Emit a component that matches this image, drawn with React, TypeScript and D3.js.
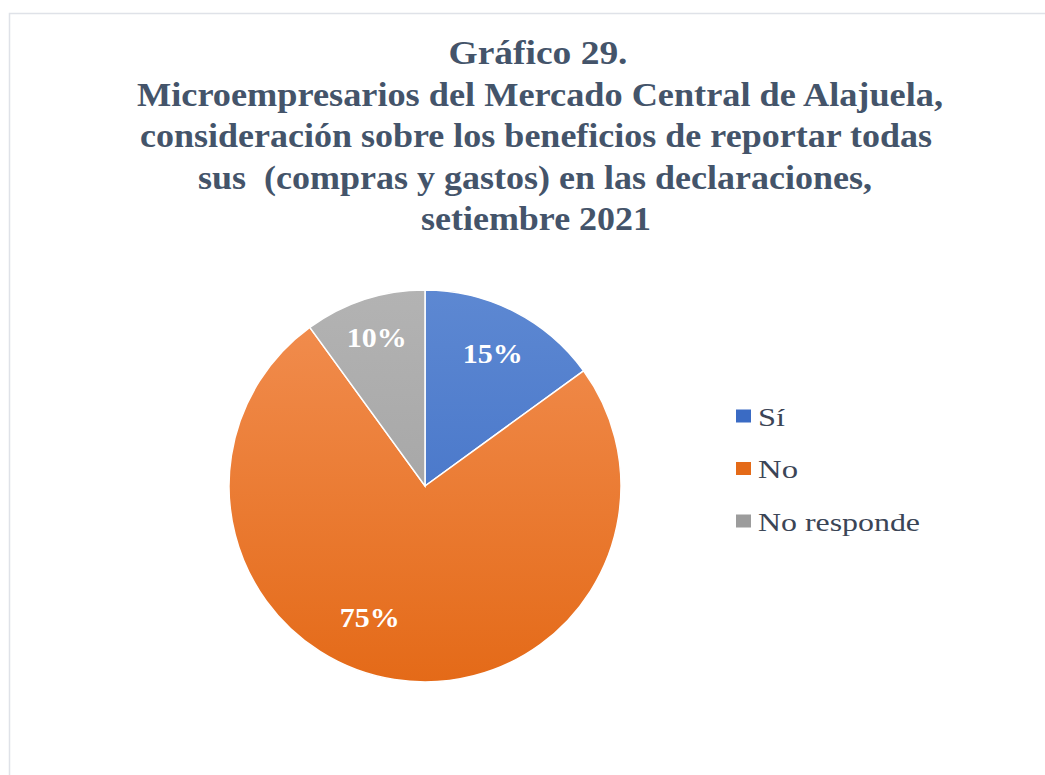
import React, { useRef, useEffect } from 'react';
import * as d3 from 'd3';

const categories = ['Sí', 'No', 'No responde'];
const values = [15, 75, 10];
const titleLines = [
  'Gráfico 29.',
  'Microempresarios del Mercado Central de Alajuela,',
  'consideración sobre los beneficios de reportar todas',
  'sus  (compras y gastos) en las declaraciones,',
  'setiembre 2021',
];

const App = () => {
  const svgRef = useRef<SVGSVGElement>(null);

  useEffect(() => {
    const width = 1045;
    const height = 775;
    const svg = d3.select(svgRef.current)
      .attr('width', width)
      .attr('height', height);

    svg.selectAll('*').remove();

    const cx = 425;
    const cy = 486;
    const radius = 196;

    // gradients, excel style (lighter top, darker bottom)
    const colors = [
      ['#5d88d2', '#3a6bc4'],
      ['#f28f52', '#e46a18'],
      ['#b3b3b3', '#9c9c9c'],
    ];
    const defs = svg.append('defs');
    colors.forEach((c, i) => {
      const g = defs.append('linearGradient')
        .attr('id', `grad${i}`)
        .attr('gradientUnits', 'userSpaceOnUse')
        .attr('x1', 0).attr('y1', -radius)
        .attr('x2', 0).attr('y2', radius);
      g.append('stop').attr('offset', '0%').attr('stop-color', c[0]);
      g.append('stop').attr('offset', '100%').attr('stop-color', c[1]);
    });

    // frame
    svg.append('rect')
      .attr('x', 9.5)
      .attr('y', 13.5)
      .attr('width', 1060)
      .attr('height', 800)
      .attr('fill', 'white')
      .attr('stroke', '#dfe2e8')
      .attr('stroke-width', 1.5);

    // title (source is squeezed horizontally, so fit each line to its width)
    const titleX = [538, 540, 536, 535, 536];
    const titleWidths = [179, 806, 792, 674, 230];
    svg.append('g')
      .selectAll('text')
      .data(titleLines)
      .enter()
      .append('text')
      .attr('x', (d, i) => titleX[i])
      .attr('y', (d, i) => 64 + i * 41.5)
      .attr('text-anchor', 'middle')
      .attr('textLength', (d, i) => titleWidths[i])
      .attr('lengthAdjust', 'spacingAndGlyphs')
      .style('white-space', 'pre')
      .style('font-family', '"Liberation Serif", "Times New Roman", serif')
      .style('font-weight', 'bold')
      .style('font-size', '34px')
      .style('fill', '#44546a')
      .text(d => d);

    const pie = d3.pie<number>().sort(null).value(d => d);
    const arcs = pie(values);
    const arc = d3.arc<d3.PieArcDatum<number>>().innerRadius(0).outerRadius(radius);

    const chart = svg.append('g')
      .attr('transform', `translate(${cx},${cy})`);

    chart.selectAll('path')
      .data(arcs)
      .enter()
      .append('path')
      .attr('d', arc)
      .attr('fill', (d, i) => `url(#grad${i})`)
      .attr('stroke', 'white')
      .attr('stroke-width', 1.5);

    // labels
    const labelRadius = [149, 143, 156];
    const labelShift = [0, 0.24, 0];
    chart.selectAll('.lbl')
      .data(arcs)
      .enter()
      .append('text')
      .attr('class', 'lbl')
      .attr('x', (d, i) => Math.sin((d.startAngle + d.endAngle) / 2 + labelShift[i]) * labelRadius[i])
      .attr('y', (d, i) => -Math.cos((d.startAngle + d.endAngle) / 2 + labelShift[i]) * labelRadius[i])
      .attr('text-anchor', 'middle')
      .attr('dominant-baseline', 'central')
      .attr('textLength', 60)
      .attr('lengthAdjust', 'spacingAndGlyphs')
      .style('font-family', '"Liberation Serif", "Times New Roman", serif')
      .style('font-weight', 'bold')
      .style('font-size', '28px')
      .style('fill', 'white')
      .text(d => `${d.data}%`);

    // legend
    const legendWidths = [27, 40, 162];
    const legend = svg.append('g')
      .attr('transform', 'translate(736,416)');
    const item = legend.selectAll('g')
      .data(categories)
      .enter()
      .append('g')
      .attr('transform', (d, i) => `translate(0,${i * 52.5})`);
    item.append('rect')
      .attr('x', 0)
      .attr('y', -6.5)
      .attr('width', 15)
      .attr('height', 13)
      .attr('fill', (d, i) => colors[i][1]);
    item.append('text')
      .attr('x', 22)
      .attr('y', 1)
      .attr('dominant-baseline', 'central')
      .attr('textLength', (d, i) => legendWidths[i])
      .attr('lengthAdjust', 'spacingAndGlyphs')
      .style('font-family', '"Liberation Serif", "Times New Roman", serif')
      .style('font-size', '25px')
      .style('fill', '#3b4556')
      .text(d => d);
  }, []);

  return <svg ref={svgRef} style={{ position: 'absolute', left: 0, top: 0 }}></svg>;
};

export default App;
